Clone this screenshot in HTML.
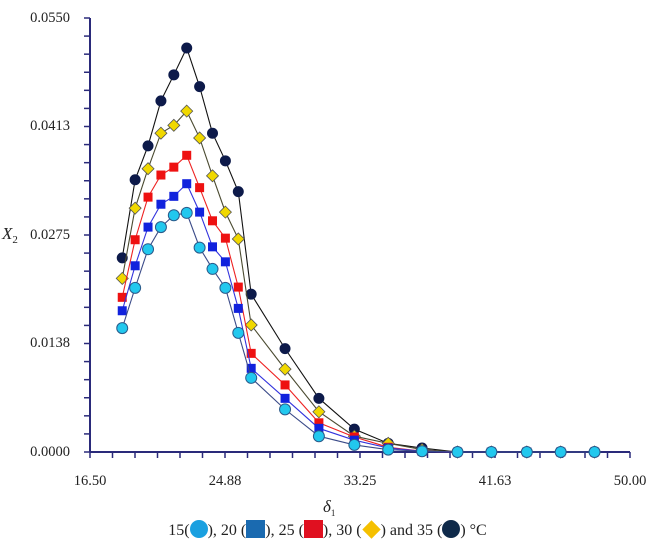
<!DOCTYPE html>
<html><head><meta charset="utf-8"><style>
body{margin:0;background:#fff;width:655px;height:552px;overflow:hidden}
svg{font-family:"Liberation Serif",serif}
</style></head><body>
<svg id="c" width="655" height="552"></svg>
<script>
const xVals=[18.5,19.3,20.1,20.9,21.7,22.5,23.3,24.1,24.9,25.7,26.5,28.6,30.7,32.9,35.0,37.1,39.3,41.4,43.6,45.7,47.8];
const s15=[0.0157,0.0208,0.0257,0.0285,0.0300,0.0303,0.0259,0.0232,0.0208,0.0151,0.0094,0.0054,0.0020,0.0009,0.0003,0.0001,0,0,0,0,0];
const s20=[0.0179,0.0236,0.0285,0.0314,0.0324,0.0340,0.0304,0.0260,0.0241,0.0182,0.0106,0.0068,0.0030,0.0015,0.0005,0.0001,0,0,0,0,0];
const s25=[0.0196,0.0269,0.0323,0.0351,0.0361,0.0376,0.0335,0.0293,0.0271,0.0209,0.0125,0.0085,0.0037,0.0019,0.0006,0.0001,0,0,0,0,0];
const s30=[0.0220,0.0309,0.0359,0.0404,0.0414,0.0432,0.0398,0.0350,0.0304,0.0270,0.0161,0.0105,0.0051,0.0020,0.0011,0.0003,0,0,0,0,0];
const s35=[0.0246,0.0345,0.0388,0.0445,0.0478,0.0512,0.0463,0.0404,0.0369,0.0330,0.0200,0.0131,0.0068,0.0029,0.0011,0.0005,0,0,0,0,0];
const xTicks=["16.50","24.88","33.25","41.63","50.00"];
const yTicks=["0.0000","0.0138","0.0275","0.0413","0.0550"];
const X0=90,X1=630,Y0=452,Y1=18,xmin=16.5,xmax=50,ymin=0,ymax=0.055;
const sx=v=>X0+(v-xmin)/(xmax-xmin)*(X1-X0);
const sy=v=>Y0-(v-ymin)/(ymax-ymin)*(Y0-Y1);
const svg=document.getElementById('c');const NS='http://www.w3.org/2000/svg';
function mk(t,a,p){const e=document.createElementNS(NS,t);for(const k in a)e.setAttribute(k,a[k]);(p||svg).appendChild(e);return e;}
const ax='#2a2a7a';
let e=mk('line',{x1:X0,y1:Y1,x2:X0,y2:Y0,stroke:ax,'stroke-width':2});


e=mk('line',{x1:X0,y1:Y0,x2:X1,y2:Y0,stroke:ax,'stroke-width':2});


for(let i=0;i<=24;i++){const x=X0+i*(X1-X0)/24;mk('line',{x1:x,y1:Y0,x2:x,y2:Y0+6,stroke:ax,'stroke-width':1.5});}
for(let i=0;i<=24;i++){const y=Y0-i*(Y0-Y1)/24;mk('line',{x1:X0-6,y1:y,x2:X0,y2:y,stroke:ax,'stroke-width':1.5});}
xTicks.forEach(t=>{const el=mk('text',{x:sx(+t),y:485,'text-anchor':'middle','font-size':14.5,fill:'#222'});el.textContent=t;

});
yTicks.forEach(t=>{const el=mk('text',{x:70,y:sy(+t)+4,'text-anchor':'end','font-size':14.5,fill:'#222'});el.textContent=t;

});
let t=mk('text',{x:2,y:239,'font-size':17,'font-style':'italic',fill:'#222'});t.innerHTML='X<tspan font-size="11" dy="4" font-style="normal">2</tspan>';


t=mk('text',{x:323,y:512,'font-size':17,'font-style':'italic',fill:'#222'});t.innerHTML='δ<tspan font-size="9" dy="4" font-style="normal">1</tspan>';


const series=[
 {d:s35,line:'#111',name:'series-35',m:'circle',fill:'#0d1a4a',st:'#0d1a4a',r:5},
 {d:s30,line:'#4a4a30',name:'series-30',m:'diamond',fill:'#f0d800',st:'#555',r:6},
 {d:s25,line:'#ee2222',name:'series-25',m:'square',fill:'#ee1111',st:'#ee1111',r:4.5},
 {d:s20,line:'#3333dd',name:'series-20',m:'square',fill:'#1122dd',st:'#1122dd',r:4.5},
 {d:s15,line:'#3a4a88',name:'series-15',m:'circle',fill:'#22c8ee',st:'#2a5a8a',r:5.5},
];
series.forEach(s=>{
 const g=mk('g',{});
 
 
 mk('polyline',{points:s.d.map((v,i)=>sx(xVals[i])+','+sy(v)).join(' '),fill:'none',stroke:s.line,'stroke-width':1.1},g);
 s.d.forEach((v,i)=>{const x=sx(xVals[i]),y=sy(v);let m;
  if(s.m==='circle')m=mk('circle',{cx:x,cy:y,r:s.r,fill:s.fill,stroke:s.st,'stroke-width':1},g);
  else if(s.m==='square')m=mk('rect',{x:x-s.r,y:y-s.r,width:2*s.r,height:2*s.r,fill:s.fill},g);
  else m=mk('polygon',{points:`${x},${y-s.r} ${x+s.r},${y} ${x},${y+s.r} ${x-s.r},${y}`,fill:s.fill,stroke:s.st,'stroke-width':0.8},g);
  
  
 });
});
</script>
<div style="position:absolute;left:0;top:520px;width:655px;text-align:center;font-family:'Liberation Serif',serif;font-size:16px;color:#222">
15(<span style="display:inline-block;width:18px;height:18px;border-radius:50%;background:#1aa0e0;vertical-align:-3px"></span>), 20 (<span style="display:inline-block;width:19px;height:18px;background:#1a6ab0;vertical-align:-3px"></span>), 25 (<span style="display:inline-block;width:19px;height:18px;background:#e01020;vertical-align:-3px"></span>), 30 (<span style="display:inline-block;width:13px;height:13px;background:#f5c000;transform:rotate(45deg);vertical-align:-1px;margin:0 3px"></span>) and 35 (<span style="display:inline-block;width:18px;height:18px;border-radius:50%;background:#0f2a4a;vertical-align:-3px"></span>) °C
</div>
</body></html>
